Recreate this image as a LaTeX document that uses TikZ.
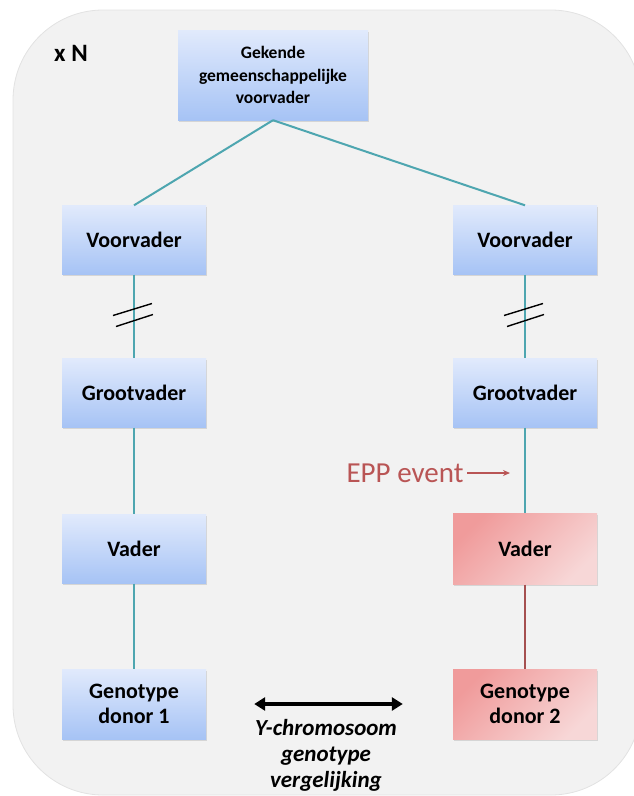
\documentclass[tikz,border=0pt]{standalone}
\usepackage{fontspec}
\setmainfont{Carlito}
\usepackage{tikz}
\usetikzlibrary{arrows.meta,shadows}
\definecolor{panel}{RGB}{242,242,242}
\definecolor{panelrim}{RGB}{226,226,226}
\definecolor{lineteal}{RGB}{78,166,176}
\definecolor{linered}{RGB}{165,80,80}
\definecolor{eventred}{RGB}{185,85,85}
\definecolor{bluetop}{RGB}{225,234,252}
\definecolor{bluebot}{RGB}{166,195,245}
\definecolor{redtop}{RGB}{240,155,155}
\definecolor{redbot}{RGB}{247,215,215}
\tikzstyle{person}=[rectangle, minimum width=144pt, minimum height=69pt, inner sep=2pt, align=center, font=\fontsize{22}{25}\selectfont\bfseries, drop shadow={shadow xshift=1.2pt, shadow yshift=-1.5pt, opacity=.25}]
\tikzstyle{bluebox}=[person, top color=bluetop, bottom color=bluebot]
\tikzstyle{redbox}=[person, top color=redtop, bottom color=redbot, shading angle=45]
\tikzstyle{link}=[line width=2pt, color=lineteal]
\tikzstyle{cut}=[line width=1.4pt, color=black]

\begin{document}
\begin{tikzpicture}[x=1pt, y=-1pt]
\useasboundingbox (0,0) rectangle (633,796);
\draw[fill=panel, draw=panelrim, line width=.8pt, rounded corners=90pt] (13,10) rectangle (641,795);
\node[font=\fontsize{25}{28}\selectfont\bfseries] (xn) at (71,53) {x N};
\node[bluebox, minimum width=190pt, minimum height=90pt, font=\fontsize{17.5}{22.5}\selectfont\bfseries] (anc) at (273,75) {Gekende\\gemeenschappelijke\\voorvader};
\foreach \n/\x in {L/134, R/525}{
  \node[bluebox] (vv\n) at (\x,240) {Voorvader};
  \node[bluebox] (gv\n) at (\x,393) {Grootvader};
}
\node[bluebox] (vL) at (134,549) {Vader};
\node[redbox, minimum height=71pt] (vR) at (525,549) {Vader};
\node[bluebox, minimum height=70pt] (dL) at (134,704) {Genotype\\donor 1};
\node[redbox, minimum height=70pt] (dR) at (525,704) {Genotype\\donor 2};
\foreach \n in {L,R}{
  \draw[link] (anc.south) -- (vv\n.north);
  \draw[link] (vv\n) -- coordinate[midway] (cut\n) (gv\n);
  \draw[cut] ([shift={(-21,-1)}]cut\n) -- ([shift={(18,-13)}]cut\n);
  \draw[cut] ([shift={(-18,10)}]cut\n) -- ([shift={(19,-2)}]cut\n);
  \draw[link] (gv\n) -- (v\n);
}
\draw[link] (vL) -- (dL);
\draw[link, color=linered] (vR) -- (dR);
\node[text=eventred, font=\fontsize{29}{32}\selectfont, anchor=east] (epp) at (467,473) {EPP event};
\coordinate (eppend) at (510,473);
\draw[-{Stealth[length=7pt,width=6pt]}, eventred, line width=1.3pt] (epp) -- (eppend);
\draw[{Triangle[length=11pt,width=13pt]}-{Triangle[length=11pt,width=13pt]}, line width=3.5pt, shorten <=48pt, shorten >=50pt] (dL.east) -- (dR.west);
\node[font=\fontsize{23}{26}\selectfont\bfseries\itshape, align=center] (cmp) at (326,755) {Y-chromosoom\\genotype\\vergelijking};
\end{tikzpicture}
\end{document}
